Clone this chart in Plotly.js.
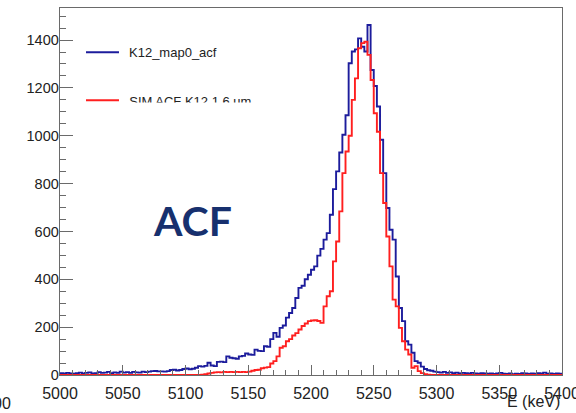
<!DOCTYPE html>
<html>
<head>
<meta charset="utf-8">
<script src="https://cdn.plot.ly/plotly-3.0.1.min.js"></script>
<style>html,body{margin:0;padding:0;background:#fff;}#chart{width:576px;height:413px;}</style>
</head>
<body>
<div id="chart"></div>
<script>
// Histogram binning (keV)
const binStart = 5000;
const binWidth = 2.5;

// K12_map0_acf counts per bin (160 bins, 5000-5400 keV)
const acfCounts = [
  8,6,9,7,5,8,10,6,9,11, 7,8,12,9,10,13,8,11,9,14,
  10,12,9,13,11,10,14,12,14,16, 17,15,15,14,16,21,22,19,21,25,
  27,24,26,30,37,35,38,51,40,37, 55,56,54,78,72,70,68,78,80,90,
  86,84,106,101,100,120,118,150,176,160, 197,207,240,259,280,322,364,373,400,419,
  440,454,499,527,566,593,670,777,851,930, 1004,1086,1303,1352,1361,1407,1372,1352,1463,1275,
  1208,1122,983,844,698,607,566,412,280,225, 141,127,93,58,51,35,25,20,18,14,
  12,10,13,9,11,8,10,7,9,8, 6,9,7,5,8,6,5,7,4,6,
  9,5,4,6,3,5,4,8,6,4, 7,5,8,6,10,5,7,4,6,5
];

// SIM ACF K12 1.6 um counts per bin
const simCounts = [
  0,0,0,0,0,0,0,0,0,0, 0,0,0,0,0,0,0,0,0,0,
  0,0,0,0,0,0,0,0,0,0, 0,0,0,0,0,0,0,0,0,0,
  0,0,0,0,0,1,3,6,9,11, 12,11,13,12,13,12,13,12,13,12,
  14,18,21,22,28,31,33,48,58,78, 114,120,141,150,165,175,190,205,215,225,
  228,229,226,218,287,329,350,475,558,684, 844,934,1000,1150,1240,1366,1387,1393,1338,1233,
  1094,1017,844,719,579,454,315,287,197,141, 106,86,30,37,16,8,3,1,0,0,
  0,0,0,0,0,0,0,0,0,0, 0,0,0,0,0,0,0,0,0,0,
  0,0,0,0,0,0,0,0,0,0, 0,0,0,0,0,0,0,0,0,0
];

const seriesNames = ['K12_map0_acf', 'SIM ACF K12 1.6 um'];
const seriesColors = ['#1c1c9c', '#ff1f1f'];

function stepXY(counts) {
  const x = counts.map((_, i) => binStart + i * binWidth);
  x.push(binStart + counts.length * binWidth);
  const y = counts.concat([counts[counts.length - 1]]);
  return {x, y};
}

const a = stepXY(acfCounts);
const s = stepXY(simCounts);

const FONT = 'Liberation Sans, Arial, Helvetica, sans-serif';
const AXC = '#6a6a6a';

const traces = [
  {x: a.x, y: a.y, type: 'scatter', mode: 'lines', line: {shape: 'hv', color: seriesColors[0], width: 1.9},
   name: seriesNames[0], showlegend: false, hoverinfo: 'skip'},
  {x: s.x, y: s.y, type: 'scatter', mode: 'lines', line: {shape: 'hv', color: seriesColors[1], width: 1.9},
   name: seriesNames[1], showlegend: false, hoverinfo: 'skip'},
  // legend text of second entry (clipped below by a white box, as in the original)
  {x: [0.138], y: [0.741], xaxis: 'x2', yaxis: 'y2', type: 'scatter', mode: 'text',
   text: [seriesNames[1]], textposition: 'middle right',
   textfont: {family: FONT, size: 13, color: '#222'}, showlegend: false, hoverinfo: 'skip'}
];

const layout = {
  width: 576, height: 413,
  margin: {l: 60, r: 14, t: 8, b: 38},
  paper_bgcolor: '#ffffff', plot_bgcolor: '#ffffff',
  showlegend: false,
  xaxis: {
    range: [5000, 5400], tick0: 5000, dtick: 50, ticks: 'inside', ticklen: 10, tickwidth: 1, tickcolor: AXC,
    minor: {dtick: 10, ticks: 'inside', ticklen: 5, tickcolor: AXC, tickwidth: 1},
    showline: true, linecolor: AXC, linewidth: 1.3, mirror: true, showgrid: false, zeroline: false,
    tickfont: {family: FONT, size: 16, color: '#222'}, ticklabeloverflow: 'allow', ticklabelstandoff: 3
  },
  yaxis: {
    range: [0, 1534], tick0: 0, dtick: 200, ticks: 'inside', ticklen: 13, tickwidth: 1, tickcolor: AXC,
    minor: {dtick: 50, ticks: 'inside', ticklen: 6, tickcolor: AXC, tickwidth: 1},
    showline: true, linecolor: AXC, linewidth: 1.3, mirror: true, showgrid: false, zeroline: false,
    tickfont: {family: FONT, size: 14.5, color: '#222'}, ticklabelstandoff: -3
  },
  xaxis2: {overlaying: 'x', range: [0, 1], visible: false, fixedrange: true},
  yaxis2: {overlaying: 'y', range: [0, 1], visible: false, fixedrange: true},
  shapes: [
    {type: 'line', xref: 'paper', yref: 'paper', x0: 0.0518, x1: 0.1175, y0: 0.8793, y1: 0.8793,
     line: {color: seriesColors[0], width: 2}},
    {type: 'line', xref: 'paper', yref: 'paper', x0: 0.0518, x1: 0.1175, y0: 0.7485, y1: 0.7485,
     line: {color: seriesColors[1], width: 2}},
    {type: 'rect', xref: 'paper', yref: 'paper', x0: 0.128, x1: 0.42, y0: 0.706, y1: 0.7425,
     fillcolor: '#ffffff', line: {width: 0}, layer: 'above'}
  ],
  annotations: [
    {xref: 'paper', yref: 'paper', x: 0.1335, y: 0.8774, xanchor: 'left', yanchor: 'middle', showarrow: false,
     text: seriesNames[0], font: {family: FONT, size: 13, color: '#222'}},
    {xref: 'paper', yref: 'paper', x: 0.264, y: 0.4223, xanchor: 'center', yanchor: 'middle', showarrow: false,
     text: '<b>ACF</b>', font: {family: 'Lato, Open Sans, sans-serif', size: 41, color: '#17306e'}},
    {xref: 'paper', yref: 'paper', x: 1.0, y: -0.0735, xanchor: 'right', yanchor: 'middle', showarrow: false,
     text: 'E (keV)', font: {family: FONT, size: 16, color: '#222'}},
    {xref: 'paper', yref: 'paper', x: -0.0936, y: -0.0777, xanchor: 'right', yanchor: 'middle', showarrow: false,
     text: '00', font: {family: FONT, size: 16, color: '#222'}}
  ]
};

Plotly.newPlot('chart', traces, layout, {displayModeBar: false, staticPlot: true});
</script>
</body>
</html>
